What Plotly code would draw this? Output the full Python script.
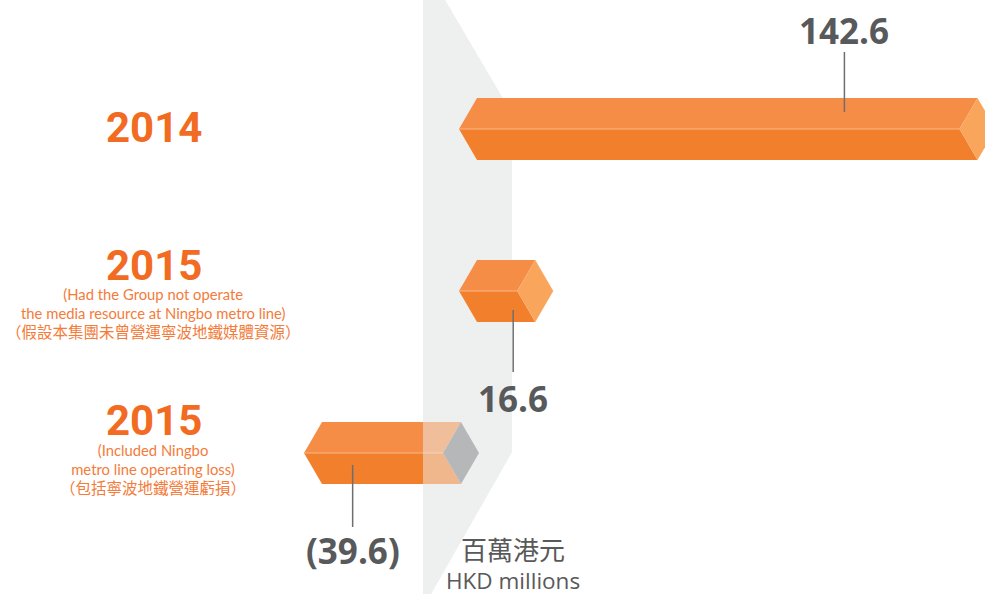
import plotly.graph_objects as go

# ---------------- data ----------------
categories = ["2014", "2015", "2015"]
notes_en = ["", "(Had the Group not operate<br>the media resource at Ningbo metro line)",
            "(Included Ningbo<br>metro line operating loss)"]
notes_zh = ["", "（假設本集團未曾營運寧波地鐵媒體資源）", "（包括寧波地鐵營運虧損）"]
values = [142.6, 16.6, -39.6]
unit_zh = "百萬港元"
unit_en = "HKD millions"

# ---------------- style / layout ----------------
W, H = 985, 594
PX_PER_UNIT = 3.51          # horizontal scale
ZERO_PX = 459               # pixel of value 0
ROW0_PX = 129               # pixel centre of first row
ROW_GAP_PX = 162            # row spacing
HALF_PX = 31                # half bar height
CAP_PX = 18                 # chevron / face width
NEG_SHIFT_PX = -16          # shift of negative bar
LEADER_FRAC = [0.77, 0.93, 0.65]
LEADER_PX = [(17, 77), (19, 81), (12, 74)]     # leader line start/end offset from row centre
LABEL_PX = [99, 107, 97]                       # value label offset from row centre
CAT_SHIFT = [2, 26, 33]
NOTE_SHIFT = [0, -22, -16]

C_TOP = "#F58D47"
C_BOT = "#F27F2B"
C_FACE = "#F9A65C"
C_MID = "#F9B888"
C_GREY_FACE = "#B6B7B8"
C_BAND = "#EEF0F0"
C_ORANGE_TXT = "#F26B22"
C_NOTE = "#F47B3A"
C_VAL = "#58595B"

ux = 1.0 / PX_PER_UNIT           # data units per px (x)
uy = 1.0 / ROW_GAP_PX            # data units per px (y)
c = CAP_PX * ux
h = HALF_PX * uy

x_range = [(0 - ZERO_PX) * ux, (W - ZERO_PX) * ux]
y_range = [(H - ROW0_PX) * uy, (0 - ROW0_PX) * uy]


def px2x(px):
    return (px - ZERO_PX) * ux


def px2y(py):
    return (py - ROW0_PX) * uy


def poly(xs, ys, color, opacity=1.0):
    return go.Scatter(x=xs + [xs[0]], y=ys + [ys[0]], mode="lines", fill="toself",
                      fillcolor=color, line=dict(width=0, color=color), opacity=opacity,
                      hoverinfo="skip", showlegend=False)


def fmt(v):
    return f"{v:.1f}" if v >= 0 else f"({abs(v):.1f})"


fig = go.Figure()

# grey band (decorative)
band_px = [(423, 0), (445, 0), (512, 114), (512, 452), (431, 594), (423, 594)]
band_x = [px2x(p[0]) for p in band_px]
band_y = [px2y(p[1]) for p in band_px]
fig.add_trace(poly(band_x, band_y, C_BAND))


def prism_parts(v, row):
    off = NEG_SHIFT_PX * ux if v < 0 else 0
    left = min(0, v) + off
    right = max(0, v) + off
    y = row
    top = ([left, left + c, right + c, right], [y, y - h, y - h, y])
    bot = ([left, left + c, right + c, right], [y, y + h, y + h, y])
    face = ([right, right + c, right + 2 * c, right + c], [y, y - h, y, y + h])
    mid = ([left, right], [y, y])
    return top, bot, face, mid


# negative bars first (they sit partly behind the band)
for i, v in enumerate(values):
    if v < 0:
        top, bot, face, mid = prism_parts(v, i)
        fig.add_trace(poly(*top, C_TOP))
        fig.add_trace(poly(*bot, C_BOT))
        fig.add_trace(go.Scatter(x=mid[0], y=mid[1], mode="lines",
                                 line=dict(color=C_MID, width=1), hoverinfo="skip"))
# translucent band overlay
fig.add_trace(poly(band_x, band_y, C_BAND, opacity=0.5))
for i, v in enumerate(values):
    if v < 0:
        top, bot, face, mid = prism_parts(v, i)
        fig.add_trace(poly(*face, C_GREY_FACE))

# positive bars
for i, v in enumerate(values):
    if v >= 0:
        top, bot, face, mid = prism_parts(v, i)
        fig.add_trace(poly(*top, C_TOP))
        fig.add_trace(poly(*bot, C_BOT))
        fig.add_trace(poly(*face, C_FACE))
        fig.add_trace(go.Scatter(x=mid[0], y=mid[1], mode="lines",
                                 line=dict(color=C_MID, width=1), hoverinfo="skip"))

annotations = []
# leader lines + value labels
for i, v in enumerate(values):
    off = NEG_SHIFT_PX * ux if v < 0 else 0
    ax = off + LEADER_FRAC[i] * v
    sgn = -1 if i == 0 else 1       # label above first bar, below others
    y1 = i + sgn * LEADER_PX[i][0] * uy
    y2 = i + sgn * LEADER_PX[i][1] * uy
    fig.add_trace(go.Scatter(x=[ax, ax], y=[y1, y2], mode="lines",
                             line=dict(color="#6D6E71", width=1.5), hoverinfo="skip"))
    annotations.append(dict(x=ax, y=i + sgn * LABEL_PX[i] * uy, xref="x", yref="y",
                            text=f"<b>{fmt(v)}</b>", showarrow=False,
                            font=dict(family="Open Sans", size=35, color=C_VAL),
                            xanchor="center", yanchor="middle"))

# category labels
for i, cat in enumerate(categories):
    annotations.append(dict(x=154 / W, y=i, xref="paper", yref="y", yshift=CAT_SHIFT[i],
                            text=cat, showarrow=False,
                            font=dict(family="Roboto", size=42, color=C_ORANGE_TXT,
                                      weight=700),
                            xanchor="center", yanchor="middle"))
    if notes_en[i]:
        text = notes_en[i] + "<br><span style='font-size:15.5px'>" + notes_zh[i] + "</span>"
        annotations.append(dict(x=153 / W, y=i, xref="paper", yref="y", yshift=NOTE_SHIFT[i],
                                text=text, showarrow=False,
                                font=dict(family="Lato, Noto Sans CJK TC", size=14.8,
                                          color=C_NOTE),
                                xanchor="center", yanchor="middle", align="center"))

# unit labels
annotations.append(dict(x=513 / W, y=1 - 548 / H, xref="paper", yref="paper", text=unit_zh,
                        showarrow=False, font=dict(family="Noto Sans CJK TC", size=26,
                                                   color="#595959"),
                        xanchor="center", yanchor="middle"))
annotations.append(dict(x=513 / W, y=1 - 580 / H, xref="paper", yref="paper", text=unit_en,
                        showarrow=False, font=dict(family="Open Sans", size=22.5,
                                                   color="#595959"),
                        xanchor="center", yanchor="middle"))

fig.update_layout(
    width=W, height=H, margin=dict(l=0, r=0, t=0, b=0),
    paper_bgcolor="white", plot_bgcolor="white", showlegend=False,
    xaxis=dict(range=x_range, visible=False, fixedrange=True),
    yaxis=dict(range=y_range, visible=False, fixedrange=True),
    annotations=annotations,
)
fig.write_html("out.html", config={"displayModeBar": False},
               post_script="document.documentElement.style.margin='0';"
                           "document.body.style.margin='0';document.body.style.padding='0';")
